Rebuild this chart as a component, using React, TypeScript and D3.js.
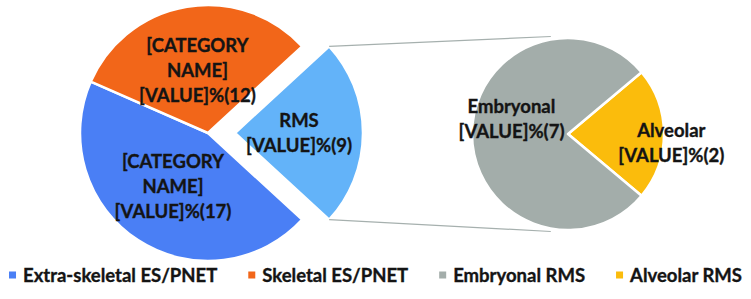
import React, { useEffect, useRef } from "react";
import * as d3 from "d3";

// ---- data ----
const mainCategories = ["RMS", "Extra-skeletal ES/PNET", "Skeletal ES/PNET"];
const mainValues = [9, 17, 12];
const mainLabelLines = [
  ["RMS", "[VALUE]%(9)"],
  ["[CATEGORY", "NAME]", "[VALUE]%(17)"],
  ["[CATEGORY", "NAME]", "[VALUE]%(12)"],
];
const subCategories = ["Alveolar", "Embryonal"];
const subValues = [2, 7];
const subLabelLines = [
  ["Alveolar", "[VALUE]%(2)"],
  ["Embryonal", "[VALUE]%(7)"],
];
const legendLabels = ["Extra-skeletal ES/PNET", "Skeletal ES/PNET", "Embryonal RMS", "Alveolar RMS"];
const legendColors = ["#4a7ff5", "#f26619", "#a3adaa", "#fbbc0c"];

// ---- style ----
const mainColors = ["#63b3f9", "#4a7ff5", "#f26619"];
const subColors = ["#fbbc0c", "#a3adaa"];
const subLabelPlacement = [
  { radius: 1.08, turn: 5 },
  { radius: 0.61, turn: 15 },
];

const W = 751;
const H = 299;
const FONT = "Lato, 'Open Sans', sans-serif";
const FS = 18.5;
const LINE = 25;
const TEXT_COLOR = "#141414";

export default function App() {
  const ref = useRef<SVGSVGElement | null>(null);

  useEffect(() => {
    const svg = d3.select(ref.current);
    svg.selectAll("*").remove();

    const cx = 208, cy = 133, R = 128, explode = 27;
    const cx2 = 568, cy2 = 134, R2 = 96;

    const polar = (a: number, r: number): [number, number] => [Math.sin(a) * r, -Math.cos(a) * r];

    // main pie
    const mainTotal = d3.sum(mainValues);
    const mStart = Math.PI / 2 - (mainValues[0] / mainTotal) * Math.PI;
    const mainPie = d3.pie<number>().sort(null).value((d) => d).startAngle(mStart).endAngle(mStart + 2 * Math.PI);
    const mainArcs = mainPie(mainValues);
    const arcMain = d3.arc<d3.PieArcDatum<number>>().innerRadius(0).outerRadius(R);

    const gMain = svg.append("g").attr("transform", `translate(${cx},${cy})`);
    mainArcs.forEach((a, i) => {
      const mid = (a.startAngle + a.endAngle) / 2;
      const off = i === 0 ? polar(mid, explode) : [0, 0];
      const g = gMain.append("g").attr("transform", `translate(${off[0]},${off[1]})`);
      g.append("path")
        .attr("d", arcMain(a) as string)
        .attr("fill", mainColors[i])
        .attr("stroke", "#ffffff")
        .attr("stroke-width", 2.5)
        .attr("stroke-linejoin", "round");
    });

    // connector lines
    const rms = mainArcs[0];
    const rmsMid = (rms.startAngle + rms.endAngle) / 2;
    const eo = polar(rmsMid, explode);
    const pTop = polar(rms.startAngle, R);
    const pBot = polar(rms.endAngle, R);
    const qTop = polar((350 * Math.PI) / 180, R2 + 3);
    const qBot = polar((190 * Math.PI) / 180, R2 + 3);
    const conn = [
      [[cx + eo[0] + pTop[0], cy + eo[1] + pTop[1]], [cx2 + qTop[0], cy2 + qTop[1]]],
      [[cx + eo[0] + pBot[0], cy + eo[1] + pBot[1]], [cx2 + qBot[0], cy2 + qBot[1]]],
    ];
    conn.forEach((c) => {
      svg.append("line")
        .attr("x1", c[0][0]).attr("y1", c[0][1])
        .attr("x2", c[1][0]).attr("y2", c[1][1])
        .attr("stroke", "#a6b0ae").attr("stroke-width", 1.2);
    });

    // secondary pie
    const subTotal = d3.sum(subValues);
    const sStart = Math.PI / 2 - (subValues[0] / subTotal) * Math.PI;
    const subPie = d3.pie<number>().sort(null).value((d) => d).startAngle(sStart).endAngle(sStart + 2 * Math.PI);
    const subArcs = subPie(subValues);
    const arcSub = d3.arc<d3.PieArcDatum<number>>().innerRadius(0).outerRadius(R2);
    const gSub = svg.append("g").attr("transform", `translate(${cx2},${cy2})`);
    subArcs.forEach((a, i) => {
      gSub.append("path")
        .attr("d", arcSub(a) as string)
        .attr("fill", subColors[i])
        .attr("stroke", "#ffffff")
        .attr("stroke-width", 2.5)
        .attr("stroke-linejoin", "round");
    });

    const styleText = (t: any) =>
      t.attr("font-family", FONT)
        .attr("font-weight", 700)
        .attr("font-size", FS)
        .attr("fill", TEXT_COLOR)
        .attr("stroke", TEXT_COLOR)
        .attr("stroke-width", 0.35);

    const drawLabel = (g: any, x: number, y: number, lines: string[]) => {
      const n = lines.length;
      lines.forEach((t, k) => {
        styleText(
          g.append("text")
            .attr("x", x)
            .attr("y", y + (k - (n - 1) / 2) * LINE)
            .attr("dy", "0.36em")
            .attr("text-anchor", "middle")
        ).text(t);
      });
    };

    // main labels
    mainArcs.forEach((a, i) => {
      const mid = (a.startAngle + a.endAngle) / 2;
      const off = i === 0 ? polar(mid, explode) : [0, 0];
      const p = polar(mid, R * 0.5);
      drawLabel(gMain, off[0] + p[0], off[1] + p[1], mainLabelLines[i]);
    });

    // sub labels
    subArcs.forEach((a, i) => {
      const mid = (a.startAngle + a.endAngle) / 2 + (subLabelPlacement[i].turn * Math.PI) / 180;
      const p = polar(mid, R2 * subLabelPlacement[i].radius);
      drawLabel(gSub, p[0], p[1], subLabelLines[i]);
    });

    // legend
    const legY = 275;
    const sq = 7, gapSq = 7, gapItem = 31;
    const gLeg = svg.append("g");
    const items = legendLabels.map((lab, i) => {
      const g = gLeg.append("g");
      g.append("rect").attr("x", 0).attr("y", legY - sq / 2).attr("width", sq).attr("height", sq).attr("fill", legendColors[i]);
      const t = styleText(
        g.append("text")
          .attr("x", sq + gapSq)
          .attr("y", legY)
          .attr("dy", "0.36em")
      ).text(lab);
      const w = (t.node() as SVGTextElement).getComputedTextLength();
      return { g, w: sq + gapSq + w };
    });
    const total = d3.sum(items, (d) => d.w) + gapItem * (items.length - 1);
    let x = W / 2 - total / 2;
    items.forEach((it) => {
      it.g.attr("transform", `translate(${x},0)`);
      x += it.w + gapItem;
    });
  }, []);

  return (
    <svg
      ref={ref}
      width={W}
      height={H}
      style={{ position: "absolute", left: 0, top: 0, background: "#ffffff" }}
    />
  );
}
